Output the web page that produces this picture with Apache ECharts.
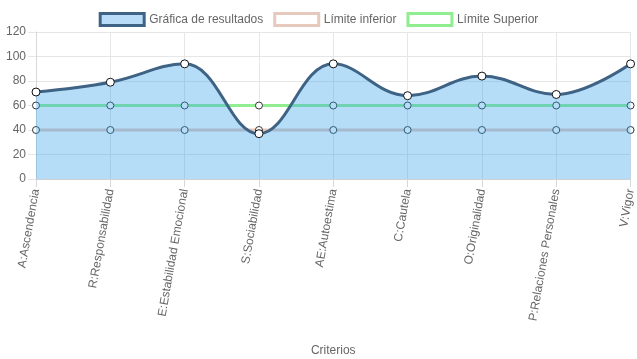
<!DOCTYPE html>
<html><head><meta charset="utf-8">
<script src="https://cdn.jsdelivr.net/npm/echarts@6/dist/echarts.min.js"></script>
<style>html,body{margin:0;padding:0;background:#fff}#c{width:637px;height:359px}</style>
</head><body><div id="c"></div>
<script>
const categories = ['A:Ascendencia','R:Responsabilidad','E:Estabilidad Emocional','S:Sociabilidad','AE:Autoestima','C:Cautela','O:Originalidad','P:Relaciones Personales','V:Vigor'];
const resultados = [71, 79, 94, 37, 94, 68, 84, 69, 94];
const limiteInferior = [40, 40, 40, 40, 40, 40, 40, 40, 40];
const limiteSuperior = [60, 60, 60, 60, 60, 60, 60, 60, 60];
const yTicks = {min: 0, max: 120, interval: 20};

const font = 'Arial, "Liberation Sans", sans-serif';
const chart = echarts.init(document.getElementById('c'));
chart.setOption({
  animation: false,
  textStyle: {fontFamily: font},
  legend: {
    top: 7, left: 'center', itemWidth: 44, itemHeight: 12, itemGap: 10,
    textStyle: {color: '#666', fontSize: 12, fontFamily: font},
    data: [
      {name: 'Gráfica de resultados', icon: 'rect', itemStyle: {color: '#b9ddf8', borderColor: '#3f6385', borderWidth: 3}},
      {name: 'Límite inferior', icon: 'rect', itemStyle: {color: '#ffffff', borderColor: '#e6c8bc', borderWidth: 3}},
      {name: 'Límite Superior', icon: 'rect', itemStyle: {color: '#ffffff', borderColor: '#90ee90', borderWidth: 3}}
    ]
  },
  grid: {left: 36, right: 4, top: 32, bottom: 180, containLabel: false},
  xAxis: {
    type: 'category', data: categories, boundaryGap: false,
    name: 'Criterios', nameLocation: 'middle', nameGap: 166,
    nameTextStyle: {color: '#666', fontSize: 12, fontFamily: font},
    axisLine: {show: true, lineStyle: {color: '#d0d0d0'}},
    axisTick: {show: true, length: 8, lineStyle: {color: '#d8d8d8'}},
    axisLabel: {rotate: 80, color: '#666', fontSize: 12, fontFamily: font, margin: 10, interval: 0},
    splitLine: {show: true, lineStyle: {color: '#e6e6e6'}}
  },
  yAxis: {
    type: 'value', min: yTicks.min, max: yTicks.max, interval: yTicks.interval,
    axisLine: {show: true, lineStyle: {color: '#d8d8d8'}},
    axisTick: {show: true, length: 8, lineStyle: {color: '#e6e6e6'}},
    axisLabel: {color: '#666', fontSize: 12, fontFamily: font, margin: 10},
    splitLine: {show: true, lineStyle: {color: '#e6e6e6'}}
  },
  series: [
    {name: 'Límite inferior', type: 'line', data: limiteInferior, z: 2,
     symbol: 'circle', symbolSize: 7, showAllSymbol: true,
     lineStyle: {color: '#e6c8bc', width: 3},
     itemStyle: {color: '#ffffff', borderColor: '#333', borderWidth: 1}},
    {name: 'Límite Superior', type: 'line', data: limiteSuperior, z: 3,
     symbol: 'circle', symbolSize: 7, showAllSymbol: true,
     lineStyle: {color: '#90ee90', width: 3},
     itemStyle: {color: '#ffffff', borderColor: '#333', borderWidth: 1}},
    {name: 'Gráfica de resultados', type: 'line', data: resultados, z: 4,
     smooth: 0.4, symbol: 'circle', symbolSize: 8, showAllSymbol: true,
     lineStyle: {color: '#3f6385', width: 3},
     areaStyle: {color: 'rgba(54,162,235,0.36)', opacity: 1, origin: 'start'},
     itemStyle: {color: '#ffffff', borderColor: '#111', borderWidth: 1}}
  ]
});
</script></body></html>
